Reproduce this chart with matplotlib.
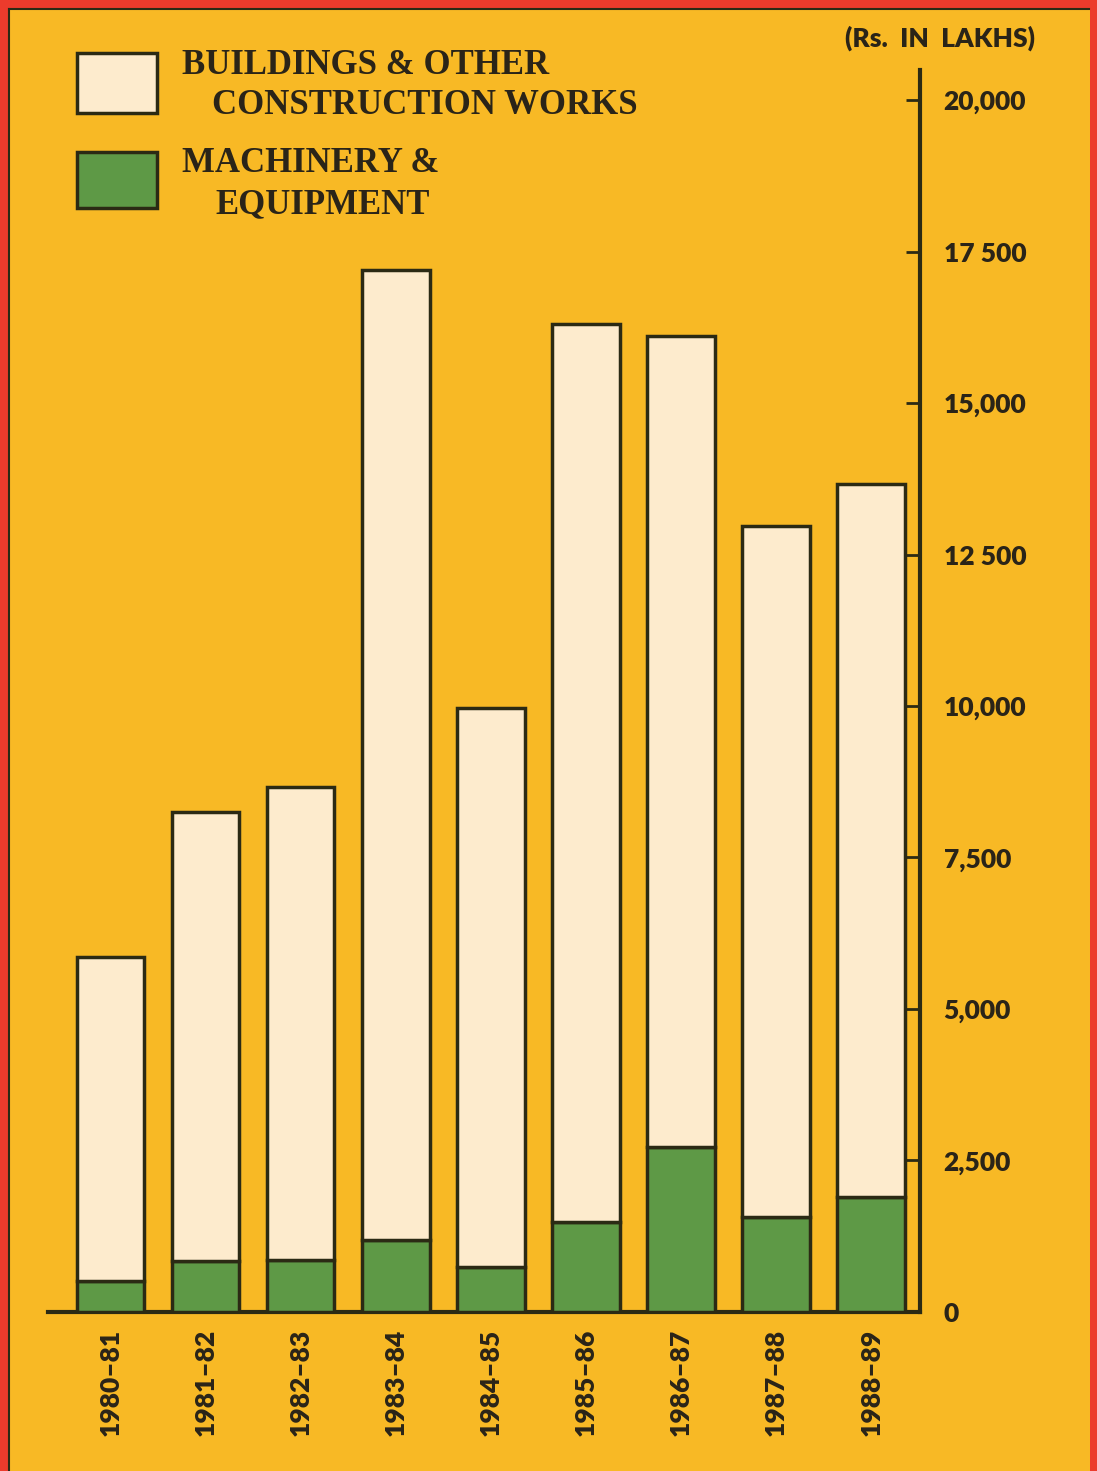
import numpy as np
import matplotlib
matplotlib.use('Agg')
from matplotlib import pyplot as plt
from matplotlib.patches import Rectangle

# data (Rs. in lakhs)
years = ['1980–81', '1981–82', '1982–83', '1983–84', '1984–85',
         '1985–86', '1986–87', '1987–88', '1988–89']
machinery = [510, 840, 860, 1190, 740, 1490, 2720, 1570, 1900]
buildings = [5340, 7410, 7800, 16010, 9230, 14810, 13390, 11400, 11760]

tick_vals = [0, 2500, 5000, 7500, 10000, 12500, 15000, 17500, 20000]
tick_labels = ['0', '2,500', '5,000', '7,500', '10,000', '12 500',
               '15,000', '17 500', '20,000']

BG = '#F8B925'
CREAM = '#FDEBCD'
GREEN = '#5E9946'
EDGE = '#2B2A14'
RED = '#EC3B2C'
INK = '#2a2418'

fig = plt.figure(figsize=(10.97, 14.71), dpi=100, facecolor=BG)
ax = fig.add_axes([0.0438, 0.1081, 0.7948, 0.8443])
ax.set_facecolor(BG)

x = np.arange(len(years))
ax.bar(x, machinery, width=0.71, color=GREEN, edgecolor=EDGE, linewidth=2.5, zorder=3)
ax.bar(x, buildings, width=0.71, bottom=machinery, color=CREAM, edgecolor=EDGE,
       linewidth=2.5, zorder=3)

ax.set_xlim(-0.657, 8.512)
ax.set_ylim(0, 20495)

for s in ['left', 'top']:
    ax.spines[s].set_visible(False)
ax.spines['right'].set_linewidth(3)
ax.spines['right'].set_color(EDGE)
ax.spines['bottom'].set_linewidth(3)
ax.spines['bottom'].set_color(EDGE)

ax.yaxis.tick_right()
ax.set_yticks(tick_vals)
ax.set_yticklabels(tick_labels, fontfamily='Lato', fontweight='heavy', fontsize=19,
                   color=INK)
ax.tick_params(axis='y', direction='in', length=10, width=2, color=EDGE, pad=17)

ax.set_xticks(x)
ax.set_xticklabels(years, rotation=90, fontfamily='Lato', fontweight='heavy',
                   fontsize=19, color=INK, va='top')
ax.tick_params(axis='x', length=0, pad=12)

# legend drawn by hand
fig.add_artist(Rectangle((77 / 1097, 1 - 113 / 1471), 80 / 1097, 60 / 1471,
                         facecolor=CREAM, edgecolor=EDGE, linewidth=2.5,
                         transform=fig.transFigure))
fig.add_artist(Rectangle((77 / 1097, 1 - 208 / 1471), 80 / 1097, 56 / 1471,
                         facecolor=GREEN, edgecolor=EDGE, linewidth=2.5,
                         transform=fig.transFigure))
lg = dict(fontfamily='Liberation Serif', fontweight='bold', fontsize=25,
          color=INK, va='center', ha='left')
fig.text(182 / 1097, 1 - 66 / 1471, 'BUILDINGS & OTHER', **lg)
fig.text(212 / 1097, 1 - 105 / 1471, 'CONSTRUCTION WORKS', **lg)
fig.text(182 / 1097, 1 - 163 / 1471, 'MACHINERY &', **lg)
fig.text(215 / 1097, 1 - 205 / 1471, 'EQUIPMENT', **lg)

fig.text(1035 / 1097, 1 - 38 / 1471, '(Rs.  IN  LAKHS)', fontfamily='Lato',
         fontweight='heavy', fontsize=19, color=INK, ha='right', va='center')

# red frame
fig.add_artist(Rectangle((0, 0), 8 / 1097, 1, facecolor=RED, edgecolor='none',
                         transform=fig.transFigure))
fig.add_artist(Rectangle((0, 1 - 8 / 1471), 1, 8 / 1471, facecolor=RED,
                         edgecolor='none', transform=fig.transFigure))
fig.add_artist(Rectangle((1090 / 1097, 0), 7 / 1097, 1, facecolor=RED,
                         edgecolor='none', transform=fig.transFigure))
fig.add_artist(plt.Line2D([9 / 1097, 9 / 1097], [0, 1 - 9 / 1471], color=EDGE,
                          linewidth=1.5, transform=fig.transFigure))
fig.add_artist(plt.Line2D([9 / 1097, 1089 / 1097], [1 - 9 / 1471, 1 - 9 / 1471],
                          color=EDGE, linewidth=1.5, transform=fig.transFigure))

fig.savefig('out.png', dpi=100, facecolor=BG)
